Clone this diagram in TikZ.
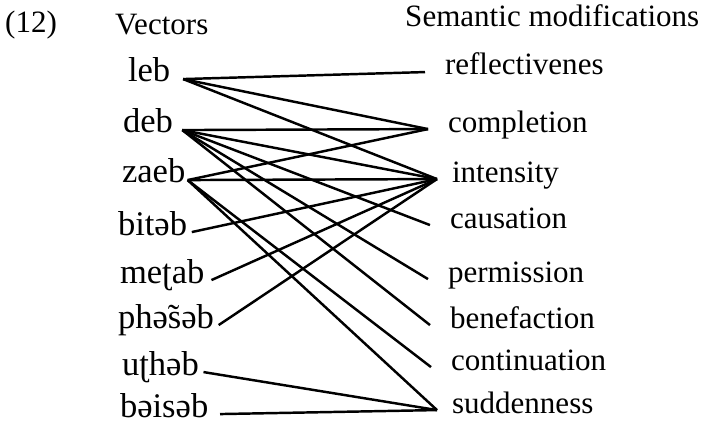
\documentclass[tikz,border=0pt]{standalone}
\usepackage{fontspec}
\setmainfont{Liberation Serif}
\usepackage{tikz}
\usetikzlibrary{calc}
\tikzset{
  vec/.style={anchor=text, inner sep=0pt, outer sep=4pt,
    text height=0.7em, text depth=0.2em, font=\fontsize{29.5}{32}\selectfont},
  sem/.style={anchor=text, inner sep=0pt, outer sep=0.6cm,
    text height=0.7em, text depth=0.2em},
  link/.style={line width=2.1pt}
}

\begin{document}
\begin{tikzpicture}
    [x=0.03cm, y=-0.03cm, font=\fontsize{26.5}{30}\selectfont]
    \useasboundingbox (0,0) rectangle (703,425);
    % headings
    \node[anchor=base west, inner sep=0pt] (num) at (5,33) {(12)};
    \node[anchor=base west, inner sep=0pt] (hvec) at (115,35) {Vectors};
    \node[anchor=base west, inner sep=0pt] (hsem) at (405,27) {Semantic modifications};
    % left
    \node[vec, outer sep=11pt] (leb) at (128,82) {leb};
    \node[vec, outer sep=8pt] (deb) at (123,133) {deb};
    \node[vec, outer sep=2pt] (zaeb) at (122,183) {zaeb};
    \node[vec] (bit) at (118,235) {bitəb};
    \node[vec, outer sep=6pt] (met) at (120,283) {meʈab};
    \node[vec] (phas) at (118,328) {phə̃səb};
    \node[vec] (uth) at (122,375) {uʈhəb};
    \node[vec, outer sep=10pt] (bais) at (120,417) {bəisəb};
    % right
    \node[sem] (refl) at (445,75) {reflectivenes};
    \node[sem] (compl) at (448,132) {completion};
    \node[sem, outer sep=0.45cm] (inten) at (452,182) {intensity};
    \node[sem] (caus) at (450,228) {causation};
    \node[sem] (perm) at (448,282) {permission};
    \node[sem] (bene) at (450,328) {benefaction};
    \node[sem] (cont) at (451,370) {continuation};
    \node[sem, outer sep=0.45cm] (sudd) at (452,413) {suddenness};
    % links
    \draw[link] (leb.east) -- (refl.west);
    \draw[link] (leb.east) -- (compl.west);
    \draw[link] (leb.east) -- (inten.west);
    \draw[link] (deb.east) -- (compl.west);
    \draw[link] (deb.east) -- (inten.west);
    \draw[link] (deb.east) -- (caus.west);
    \draw[link] (deb.east) -- (perm.west);
    \draw[link] (deb.east) -- (bene.west);
    \draw[link] (zaeb.east) -- (compl.west);
    \draw[link] (zaeb.east) -- (inten.west);
    \draw[link] (zaeb.east) -- (cont.west);
    \draw[link] (zaeb.east) -- (sudd.west);
    \draw[link] (bit.east) -- (inten.west);
    \draw[link] (met.east) -- (inten.west);
    \draw[link] (phas.east) -- (inten.west);
    \draw[link] (uth.east) -- (sudd.west);
    \draw[link] (bais.east) -- (sudd.west);
\end{tikzpicture}
\end{document}
